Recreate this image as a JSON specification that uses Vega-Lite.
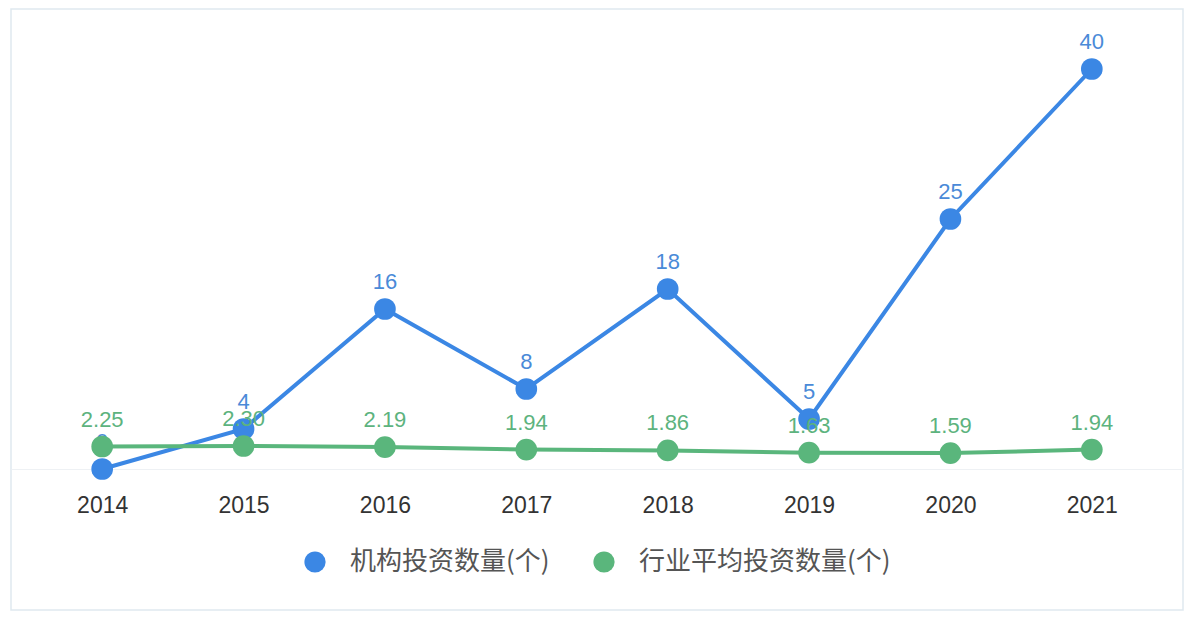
{
  "$schema": "https://vega.github.io/schema/vega-lite/v6.json",
  "description": "机构投资数量与行业平均投资数量 2014-2021",
  "autosize": "none",
  "padding": {"left": 11, "top": 9, "right": 9, "bottom": 16},
  "width": 1172,
  "height": 601,
  "background": "#ffffff",
  "config": {
    "view": {"stroke": "#dfe9ef", "strokeWidth": 1.5},
    "legend": {
      "orient": "none",
      "direction": "horizontal",
      "legendX": 291,
      "legendY": 540,
      "padding": 0,
      "title": null,
      "symbolType": "circle",
      "symbolSize": 450,
      "symbolStrokeWidth": 0,
      "symbolOpacity": 1,
      "labelFont": "Noto Sans CJK SC",
      "labelFontSize": 26,
      "labelColor": "#555555",
      "labelOffset": 22,
      "labelLimit": 400,
      "columnPadding": 41
    }
  },
  "data": {
    "values": [
      {"year": "2014", "series": "机构投资数量(个)", "value": 0},
      {"year": "2015", "series": "机构投资数量(个)", "value": 4},
      {"year": "2016", "series": "机构投资数量(个)", "value": 16},
      {"year": "2017", "series": "机构投资数量(个)", "value": 8},
      {"year": "2018", "series": "机构投资数量(个)", "value": 18},
      {"year": "2019", "series": "机构投资数量(个)", "value": 5},
      {"year": "2020", "series": "机构投资数量(个)", "value": 25},
      {"year": "2021", "series": "机构投资数量(个)", "value": 40},
      {"year": "2014", "series": "行业平均投资数量(个)", "value": 2.25},
      {"year": "2015", "series": "行业平均投资数量(个)", "value": 2.30},
      {"year": "2016", "series": "行业平均投资数量(个)", "value": 2.19},
      {"year": "2017", "series": "行业平均投资数量(个)", "value": 1.94},
      {"year": "2018", "series": "行业平均投资数量(个)", "value": 1.86},
      {"year": "2019", "series": "行业平均投资数量(个)", "value": 1.63},
      {"year": "2020", "series": "行业平均投资数量(个)", "value": 1.59},
      {"year": "2021", "series": "行业平均投资数量(个)", "value": 1.94}
    ]
  },
  "encoding": {
    "x": {
      "field": "year",
      "type": "ordinal",
      "scale": {"type": "point", "padding": 0.645},
      "axis": {
        "title": null,
        "orient": "bottom",
        "offset": -141,
        "labelAngle": 0,
        "ticks": false,
        "labelPadding": 25,
        "labelFontSize": 23,
        "labelFont": "Liberation Sans",
        "labelColor": "#333333",
        "domainColor": "#eef1f4",
        "domainWidth": 1
      }
    },
    "y": {
      "field": "value",
      "type": "quantitative",
      "scale": {"domain": [-14.1, 46], "nice": false, "zero": false},
      "axis": null
    }
  },
  "layer": [
    {
      "transform": [{"filter": "datum.series === '机构投资数量(个)'"}],
      "mark": {"type": "line", "strokeWidth": 4},
      "encoding": {
        "color": {
          "field": "series",
          "type": "nominal",
          "sort": ["机构投资数量(个)", "行业平均投资数量(个)"],
          "scale": {"domain": ["机构投资数量(个)", "行业平均投资数量(个)"], "range": ["#3b87e4", "#5ab67c"]},
          "legend": {
            "encode": {
              "symbols": {"update": {"fill": {"scale": "color", "field": "value"}, "stroke": {"value": "transparent"}, "shape": {"value": "circle"}}}
            }
          }
        }
      }
    },
    {
      "transform": [{"filter": "datum.series === '机构投资数量(个)'"}],
      "mark": {"type": "point", "filled": true, "size": 470, "opacity": 1},
      "encoding": {
        "color": {"field": "series", "type": "nominal"}
      }
    },
    {
      "transform": [{"filter": "datum.series === '机构投资数量(个)'"}],
      "mark": {"type": "text", "dy": -27, "fontSize": 22, "font": "Liberation Sans", "color": "#4a8ad8", "baseline": "middle"},
      "encoding": {
        "text": {"field": "value", "type": "quantitative", "format": "d"}
      }
    },
    {
      "transform": [{"filter": "datum.series === '行业平均投资数量(个)'"}],
      "mark": {"type": "line", "strokeWidth": 4},
      "encoding": {
        "color": {"field": "series", "type": "nominal"}
      }
    },
    {
      "transform": [{"filter": "datum.series === '行业平均投资数量(个)'"}],
      "mark": {"type": "point", "filled": true, "size": 470, "opacity": 1},
      "encoding": {
        "color": {"field": "series", "type": "nominal"}
      }
    },
    {
      "transform": [{"filter": "datum.series === '行业平均投资数量(个)'"}],
      "mark": {"type": "text", "dy": -27, "fontSize": 22, "font": "Liberation Sans", "color": "#5db37e", "baseline": "middle"},
      "encoding": {
        "text": {"field": "value", "type": "quantitative", "format": ".2f"}
      }
    }
  ]
}
